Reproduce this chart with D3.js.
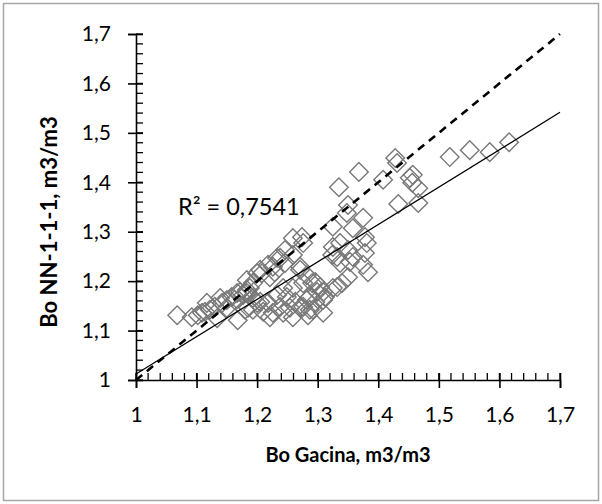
<!DOCTYPE html>
<html><head><meta charset="utf-8">
<script src="https://cdn.jsdelivr.net/npm/d3@7"></script>
<style>body{margin:0;background:#fff}svg{display:block}text{font-family:Lato,"Open Sans",sans-serif}</style>
</head><body><div id="c"></div>
<script>
// Data (Bo Gacina vs Bo NN-1-1-1, m3/m3)
const xValues = [1.068,1.092,1.102,1.109,1.114,1.122,1.130,1.142,1.150,1.158,1.163,1.134,1.168,1.172,1.183,1.188,1.193,1.200,1.200,1.185,1.150,
 1.274,1.259,1.238,1.246,1.226,1.208,1.221,1.229,1.325,1.332,1.337,1.271,1.282,1.276,1.291,1.304,1.299,1.309,1.325,1.340,1.259,1.243,1.233,1.249,1.263,1.282,1.296,1.271,1.287,1.254,1.238,1.218,1.205,1.193,1.183,1.177,1.180,1.193,1.210,1.226,1.243,1.259,1.292,1.309,1.309,1.284,1.221,
 1.428,1.431,1.518,1.551,1.584,1.616,1.457,1.368,1.408,1.452,1.456,1.466,1.335,1.433,1.466,1.350,1.348,1.375,1.325,1.358,1.378,1.381,1.337,1.324,1.350,1.358,1.378,1.353,1.375,1.383,1.350,1.332,1.296,1.287,1.312,1.276,
 1.259,1.246,1.233,1.218,1.205,1.183,1.167,1.139,1.117,1.276,1.271];
const yValues = [1.131,1.127,1.131,1.136,1.138,1.142,1.148,1.156,1.162,1.168,1.162,1.125,1.121,1.178,1.176,1.186,1.196,1.216,1.156,1.146,1.146,
 1.289,1.253,1.247,1.237,1.229,1.216,1.208,1.218,1.269,1.249,1.237,1.223,1.212,1.196,1.196,1.188,1.178,1.178,1.186,1.196,1.186,1.186,1.172,1.168,1.158,1.162,1.158,1.146,1.142,1.146,1.148,1.156,1.158,1.166,1.182,1.172,1.142,1.142,1.138,1.136,1.136,1.127,1.142,1.162,1.136,1.131,1.127,
 1.449,1.439,1.451,1.465,1.461,1.481,1.415,1.421,1.405,1.409,1.399,1.388,1.390,1.356,1.358,1.354,1.338,1.328,1.310,1.307,1.289,1.277,1.277,1.253,1.263,1.249,1.257,1.239,1.233,1.218,1.208,1.188,1.198,1.168,1.168,1.148,
 1.287,1.263,1.247,1.233,1.223,1.202,1.176,1.166,1.156,1.277,1.229];
const axisTicks = [1,1.1,1.2,1.3,1.4,1.5,1.6,1.7];
const minorTicks = d3.range(0,36).map(i=>1+i*0.02);
const trendSlope = 0.7566, trendIntercept = 0.2554;
const r2Label = "R² = 0,7541";
const xTitle = "Bo Gacina, m3/m3";
const yTitle = "Bo NN-1-1-1, m3/m3";

const W=602,H=504;
const svg=d3.select("#c").append("svg").attr("width",W).attr("height",H);
svg.append("rect").attr("x",3.5).attr("y",3.5).attr("width",595).attr("height",497)
  .attr("fill","#fff").attr("stroke","#a6a6a6").attr("stroke-width",1.5);

const x=d3.scaleLinear().domain([1,1.7]).range([136,560]);
const y=d3.scaleLinear().domain([1,1.7]).range([380,34]);
const fmt=d=>(Math.round(d*10)/10).toString().replace(".",",");

// points
const pts=xValues.map((v,i)=>[v,yValues[i]]);
const s=9.3;
svg.append("g").selectAll("path").data(pts).join("path")
  .attr("d",d=>{const cx=x(d[0]),cy=y(d[1]);return `M${cx},${cy-s}L${cx+s},${cy}L${cx},${cy+s}L${cx-s},${cy}Z`;})
  .attr("fill","none").attr("stroke","#787878").attr("stroke-width",1.4);

// y = x dashed
svg.append("line").attr("x1",x(1)).attr("y1",y(1)).attr("x2",x(1.7)).attr("y2",y(1.7))
  .attr("stroke","#000").attr("stroke-width",2.6).attr("stroke-dasharray","8,6");
// trendline
svg.append("line").attr("x1",x(1)).attr("y1",y(trendSlope*1+trendIntercept))
  .attr("x2",x(1.7)).attr("y2",y(trendSlope*1.7+trendIntercept))
  .attr("stroke","#000").attr("stroke-width",1.3);

// axes
const ax=svg.append("g").attr("transform",`translate(0,${y(1)})`)
  .call(d3.axisBottom(x).tickValues(axisTicks).tickFormat(fmt).tickSize(8));
const ay=svg.append("g").attr("transform",`translate(${x(1)},0)`)
  .call(d3.axisLeft(y).tickValues(axisTicks).tickFormat(fmt).tickSize(8).tickPadding(17));
[ax,ay].forEach(g=>{g.select(".domain").attr("stroke","#000").attr("stroke-width",1.6);
  g.selectAll(".tick line").attr("stroke","#000").attr("stroke-width",1.6);
  g.selectAll("text").attr("font-size",21).attr("fill","#000");});
// major ticks crossing inside
ax.selectAll(".tick").append("line").attr("y1",0).attr("y2",-7).attr("stroke","#000").attr("stroke-width",1.6);
ay.selectAll(".tick").append("line").attr("x1",0).attr("x2",7).attr("stroke","#000").attr("stroke-width",1.6);
ax.selectAll(".tick text").attr("dy","0").attr("y",42);
// minor ticks inside
svg.append("g").selectAll("line").data(minorTicks).join("line")
  .attr("x1",d=>x(d)).attr("x2",d=>x(d)).attr("y1",y(1)).attr("y2",y(1)-7)
  .attr("stroke","#000").attr("stroke-width",1.3);
svg.append("g").selectAll("line").data(minorTicks).join("line")
  .attr("y1",d=>y(d)).attr("y2",d=>y(d)).attr("x1",x(1)).attr("x2",x(1)+7)
  .attr("stroke","#000").attr("stroke-width",1.3);

// texts
svg.append("text").attr("x",178).attr("y",215).attr("font-size",23.5).attr("fill","#000").text(r2Label);
svg.append("text").attr("x",348).attr("y",462).attr("text-anchor","middle").attr("font-size",20)
  .attr("font-weight","bold").attr("fill","#000").text(xTitle);
svg.append("text").attr("transform","translate(57,222) rotate(-90)").attr("text-anchor","middle")
  .attr("font-size",22).attr("font-weight","bold").attr("fill","#000").text(yTitle);
</script></body></html>
